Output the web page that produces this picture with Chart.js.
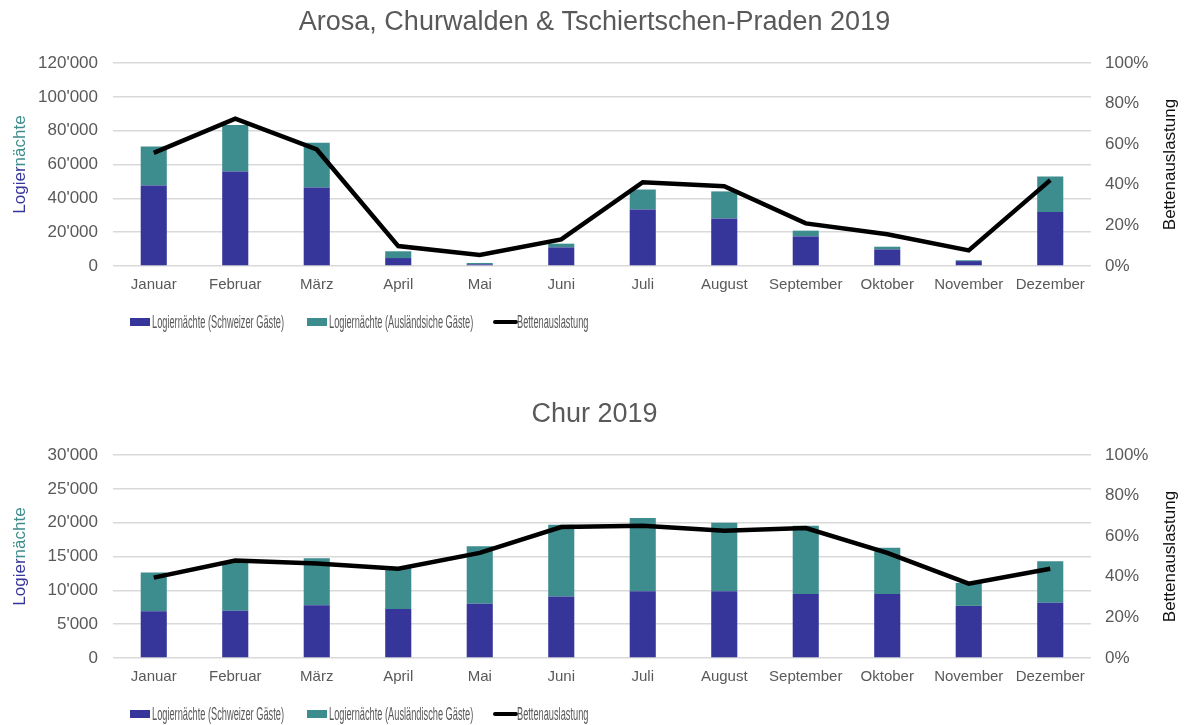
<!DOCTYPE html>
<html>
<head>
<meta charset="utf-8">
<script src="https://cdn.jsdelivr.net/npm/chart.js@4"></script>
<style>
  body { margin: 0; background: #fff; width: 1189px; height: 725px; overflow: hidden; }
  .box { position: absolute; left: 0; width: 1189px; height: 333px; }
</style>
</head>
<body>
<div class="box" style="top:0"><canvas id="chartArosa" width="1189" height="333"></canvas></div>
<div class="box" style="top:392px"><canvas id="chartChur" width="1189" height="333"></canvas></div>
<script>
const months = ["Januar", "Februar", "März", "April", "Mai", "Juni", "Juli", "August", "September", "Oktober", "November", "Dezember"];

// Arosa, Churwalden & Tschiertschen-Praden
const arosaSwiss = [47600, 55900, 46400, 4700, 1000, 11000, 33400, 28100, 17500, 9800, 2900, 31900];
const arosaForeign = [23000, 27500, 26400, 4000, 800, 2200, 11800, 16000, 3400, 1600, 500, 21000];
const arosaOccupancy = [55.7, 72.6, 57.4, 9.8, 5.4, 13.1, 41.3, 39.3, 21, 15.6, 7.7, 42.3];

// Chur
const churSwiss = [6900, 7000, 7800, 7250, 8000, 9100, 9850, 9850, 9450, 9450, 7700, 8150];
const churForeign = [5750, 7200, 6950, 6050, 8500, 10600, 10850, 10150, 10100, 6850, 3400, 6150];
const churOccupancy = [39.6, 48, 46.6, 44, 51.8, 64.5, 65.2, 62.7, 64, 51.8, 36.6, 44];

const FONT = "'Liberation Sans', Arial, sans-serif";
const PURPLE = "#35359a";
const TEAL = "#3d8c8e";
const GREY = "#595959";

function formatThousands(v) {
  return String(v).replace(/\B(?=(\d{3})+(?!\d))/g, "'");
}

// axis titles + squeezed legend, drawn by hand
const extrasPlugin = {
  id: "extras",
  afterDraw(chart) {
    const ctx = chart.ctx;
    const area = chart.chartArea;
    const midY = (area.top + area.bottom) / 2;

    ctx.save();
    ctx.font = "17px " + FONT;
    ctx.textBaseline = "middle";

    // left title, two colours
    ctx.save();
    ctx.translate(20, midY);
    ctx.rotate(-Math.PI / 2);
    const partA = "Logier";
    const partB = "nächte";
    const total = ctx.measureText(partA + partB).width;
    ctx.textAlign = "left";
    ctx.fillStyle = PURPLE;
    ctx.fillText(partA, -total / 2, 0);
    ctx.fillStyle = TEAL;
    ctx.fillText(partB, -total / 2 + ctx.measureText(partA).width, 0);
    ctx.restore();

    // right title
    ctx.save();
    ctx.translate(1170, midY);
    ctx.rotate(-Math.PI / 2);
    ctx.textAlign = "center";
    ctx.fillStyle = "#111";
    ctx.fillText("Bettenauslastung", 0, 0);
    ctx.restore();

    // legend (text is narrow in the original)
    ctx.font = "18px " + FONT;
    const y = 322;
    const squeeze = 132 / ctx.measureText("Logiernächte (Schweizer Gäste)").width;
    const starts = [130, 307, 495];
    chart.data.datasets.forEach((ds, i) => {
      const x = starts[i];
      if (ds.type === "line") {
        ctx.fillStyle = ds.borderColor;
        ctx.fillRect(x, y - 2, 21, 4);
        ctx.beginPath();
        ctx.arc(x, y, 2, 0, Math.PI * 2);
        ctx.arc(x + 21, y, 2, 0, Math.PI * 2);
        ctx.fill();
      } else {
        ctx.fillStyle = ds.backgroundColor;
        ctx.fillRect(x, y - 4, 20, 8);
      }
      ctx.save();
      ctx.translate(x + 22, y);
      ctx.scale(squeeze, 1);
      ctx.textAlign = "left";
      ctx.fillStyle = GREY;
      ctx.fillText(ds.label, 0, 1);
      ctx.restore();
    });
    ctx.restore();
  }
};

function makeChart(canvasId, title, swiss, foreign, occupancy, foreignLabel, maxLeft, stepLeft) {
  return new Chart(document.getElementById(canvasId), {
    type: "bar",
    data: {
      labels: months,
      datasets: [
        {
          label: "Logiernächte (Schweizer Gäste)",
          data: swiss,
          backgroundColor: PURPLE,
          stack: "nights",
          yAxisID: "y",
          order: 1,
          categoryPercentage: 1,
          barPercentage: 0.32,
        },
        {
          label: foreignLabel,
          data: foreign,
          backgroundColor: TEAL,
          stack: "nights",
          yAxisID: "y",
          order: 1,
          categoryPercentage: 1,
          barPercentage: 0.32,
        },
        {
          type: "line",
          label: "Bettenauslastung",
          data: occupancy,
          borderColor: "#000",
          backgroundColor: "#000",
          borderWidth: 4.5,
          pointRadius: 0,
          tension: 0,
          yAxisID: "y1",
          order: 0,
        },
      ],
    },
    options: {
      responsive: false,
      animation: false,
      layout: { padding: 0 },
      plugins: {
        legend: { display: false },
        tooltip: { enabled: false },
        title: {
          display: true,
          text: title,
          color: GREY,
          font: { family: FONT, size: 27, weight: "normal", lineHeight: 1.2 },
          padding: { top: 6, bottom: 24.6 },
        },
      },
      scales: {
        x: {
          stacked: true,
          grid: { display: false, drawTicks: false },
          border: { display: false },
          ticks: { color: GREY, font: { family: FONT, size: 15 }, padding: 10, maxRotation: 0, autoSkip: false },
          afterFit: (scale) => { scale.height = 67; },
        },
        y: {
          position: "left",
          stacked: true,
          min: 0,
          max: maxLeft,
          ticks: {
            stepSize: stepLeft,
            color: GREY,
            font: { family: FONT, size: 17 },
            padding: 15,
            callback: (v) => formatThousands(v),
          },
          grid: { color: "#d9d9d9", lineWidth: 1.5, drawTicks: false },
          border: { display: false },
          afterFit: (scale) => { scale.width = 113; },
        },
        y1: {
          position: "right",
          min: 0,
          max: 100,
          ticks: {
            stepSize: 20,
            color: GREY,
            font: { family: FONT, size: 17 },
            padding: 14,
            callback: (v) => v + "%",
          },
          grid: { display: false, drawTicks: false },
          border: { display: false },
          afterFit: (scale) => { scale.width = 98; },
        },
      },
    },
    plugins: [extrasPlugin],
  });
}

makeChart("chartArosa", "Arosa, Churwalden & Tschiertschen-Praden 2019",
  arosaSwiss, arosaForeign, arosaOccupancy, "Logiernächte (Ausländsiche Gäste)", 120000, 20000);
makeChart("chartChur", "Chur 2019",
  churSwiss, churForeign, churOccupancy, "Logiernächte (Ausländische Gäste)", 30000, 5000);
</script>
</body>
</html>
